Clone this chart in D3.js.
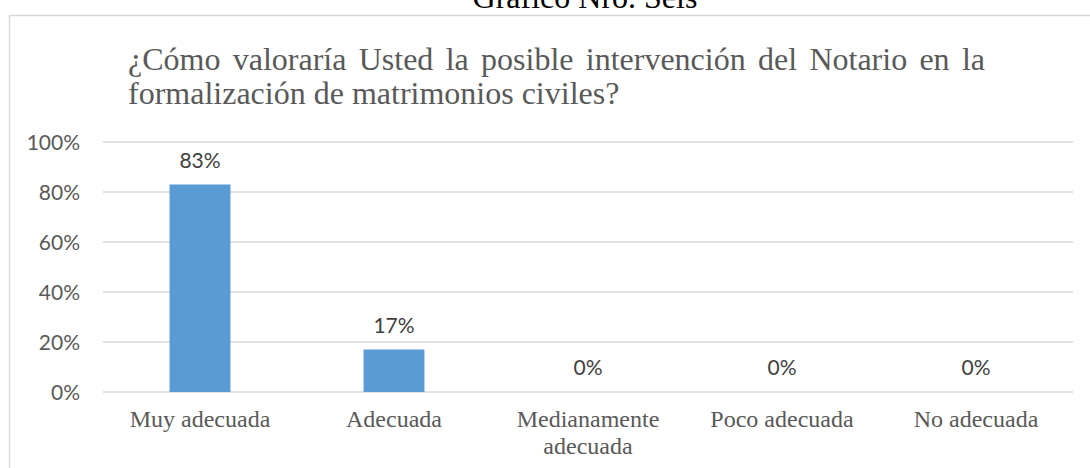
<!DOCTYPE html>
<html>
<head>
<meta charset="utf-8">
<script src="https://cdn.jsdelivr.net/npm/d3@7"></script>
<style>
  html, body { margin: 0; padding: 0; background: #fff; overflow: hidden; }
</style>
</head>
<body>
<div id="chart"></div>
<script>
const categories = ["Muy adecuada", "Adecuada", "Medianamente adecuada", "Poco adecuada", "No adecuada"];
const categoryLines = [["Muy adecuada"], ["Adecuada"], ["Medianamente", "adecuada"], ["Poco adecuada"], ["No adecuada"]];
const values = [0.83, 0.17, 0, 0, 0];
const yTicks = [0, 0.2, 0.4, 0.6, 0.8, 1];
const pageTitle = "Gráfico Nro. Seis";
const titleLines = [
  "¿Cómo valoraría Usted la posible intervención del Notario en la",
  "formalización de matrimonios civiles?"
];

const width = 1090;
const height = 468;
const margin = { left: 103, right: 17, top: 142, bottom: 76 };
const serif = "'Liberation Serif', 'Times New Roman', serif";
const sans = "Lato, 'Open Sans', sans-serif";

const svg = d3
  .select("#chart")
  .append("svg")
  .attr("width", width)
  .attr("height", height);

// chart area border (runs off the right and bottom of the page)
svg
  .append("rect")
  .attr("x", 9.5)
  .attr("y", 15.5)
  .attr("width", 1100)
  .attr("height", 500)
  .attr("fill", "none")
  .attr("stroke", "#d9d9d9")
  .attr("stroke-width", 1.5);

svg
  .append("text")
  .text(pageTitle)
  .attr("x", 585)
  .attr("y", 8)
  .attr("text-anchor", "middle")
  .attr("font-family", serif)
  .attr("font-size", 32)
  .attr("fill", "#000");

// chart title, first line justified
const titleLeft = 128;
const titleRight = 985;
const titleG = svg.append("g").attr("font-family", serif).attr("font-size", 32).attr("fill", "#595959");
titleLines.forEach((line, i) => {
  const t = titleG.append("text").text(line).attr("x", titleLeft).attr("y", 70 + i * 34);
  if (i === 0) {
    const natural = t.node().getComputedTextLength();
    const gaps = line.split(" ").length - 1;
    t.style("word-spacing", `${(titleRight - titleLeft - natural) / gaps}px`);
  }
});

const x = d3
  .scaleBand()
  .domain(categories)
  .range([margin.left, width - margin.right])
  .paddingInner(0.686)
  .paddingOuter(0.343);

const y = d3
  .scaleLinear()
  .domain([0, 1])
  .range([height - margin.bottom, margin.top]);

svg
  .append("g")
  .attr("stroke", "#d9d9d9")
  .attr("stroke-width", 1.5)
  .selectAll("line")
  .data(yTicks)
  .enter()
  .append("line")
  .attr("x1", margin.left)
  .attr("x2", width - margin.right)
  .attr("y1", (d) => y(d))
  .attr("y2", (d) => y(d));

svg
  .append("g")
  .attr("font-family", sans)
  .attr("font-size", 21)
  .attr("fill", "#595959")
  .attr("text-anchor", "end")
  .selectAll("text")
  .data(yTicks)
  .enter()
  .append("text")
  .text(d3.format(".0%"))
  .attr("x", 80)
  .attr("y", (d) => y(d))
  .attr("dy", "0.36em");

svg
  .append("g")
  .attr("fill", "#5b9bd5")
  .selectAll("rect")
  .data(values)
  .enter()
  .append("rect")
  .attr("x", (d, i) => x(categories[i]))
  .attr("width", x.bandwidth())
  .attr("y", (d) => y(d))
  .attr("height", (d) => y(0) - y(d));

svg
  .append("g")
  .attr("font-family", sans)
  .attr("font-size", 21)
  .attr("fill", "#404040")
  .attr("text-anchor", "middle")
  .selectAll("text")
  .data(values)
  .enter()
  .append("text")
  .text(d3.format(".0%"))
  .attr("x", (d, i) => x(categories[i]) + x.bandwidth() / 2)
  .attr("y", (d) => y(d) - 17);

svg
  .append("g")
  .attr("font-family", serif)
  .attr("font-size", 24)
  .attr("fill", "#595959")
  .attr("text-anchor", "middle")
  .selectAll("text")
  .data(categories)
  .enter()
  .append("text")
  .attr("x", (d) => x(d) + x.bandwidth() / 2)
  .attr("y", 427)
  .selectAll("tspan")
  .data((d, i) => categoryLines[i])
  .enter()
  .append("tspan")
  .attr("x", function () { return d3.select(this.parentNode).attr("x"); })
  .attr("dy", (d, i) => (i === 0 ? 0 : 27))
  .text((d) => d);
</script>
</body>
</html>
